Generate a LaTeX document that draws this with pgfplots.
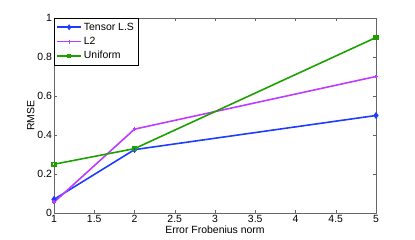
\documentclass[border=0pt]{standalone}
\usepackage{pgfplots}
\pgfplotsset{compat=1.18}
\usepackage{fontspec}
\setmainfont{Liberation Sans}
\definecolor{cblue}{RGB}{30,60,255}
\definecolor{cmag}{RGB}{190,60,255}
\definecolor{cgreen}{RGB}{30,160,0}
\begin{document}
\begin{tikzpicture}[x=1bp,y=1bp]
\path[use as bounding box] (-54bp,-27bp) rectangle (361bp,213bp);
\begin{axis}[
  at={(0,0)}, anchor=south west,
  scale only axis, width=322bp, height=195bp,
  xmin=1, xmax=5, ymin=0, ymax=1,
  xtick={1,1.5,...,5}, ytick={0,0.2,...,1},
  xticklabels={1,1.5,2,2.5,3,3.5,4,4.5,5},
  yticklabels={0,0.2,0.4,0.6,0.8,1},
  tick align=inside, tick pos=both,
  major tick length=3bp,
  axis line style={gray!80!black, line width=0.7pt},
  every tick/.style={gray!80!black},
  tick label style={font=\fontsize{10.5}{12}\selectfont},
  xticklabel style={yshift=1bp},
  yticklabel style={xshift=1.5bp},
  label style={font=\fontsize{10.5}{12}\selectfont},
  xlabel={Error Frobenius norm}, ylabel={RMSE},
  xlabel style={yshift=4bp},
  ylabel style={yshift=-4bp},
  legend cell align=left,
  legend style={font=\fontsize{10.5}{12}\selectfont, draw=black, line width=0.7pt, inner xsep=2pt, inner ysep=2.5pt, row sep=1.5pt, at={(0,1)}, anchor=north west},
  legend image code/.code={\draw[#1, mark=none, line width=1.6pt] (0bp,0bp) -- (24bp,0bp); \draw[#1, line width=1pt] plot coordinates {(12bp,0bp)};},
]
\addplot[cblue, line width=1.6pt, mark=diamond*, mark size=2.2pt] coordinates {(1,0.07) (2,0.325) (5,0.50)};
\addlegendentry{Tensor L.S}
\addplot[cmag, line width=1.6pt, mark=+, mark size=2pt] coordinates {(1,0.055) (2,0.43) (5,0.70)};
\addlegendentry{L2}
\addplot[cgreen, line width=1.6pt, mark=square, mark size=1.8pt] coordinates {(1,0.25) (2,0.33) (5,0.90)};
\addlegendentry{Uniform}
\end{axis}
\end{tikzpicture}
\end{document}
